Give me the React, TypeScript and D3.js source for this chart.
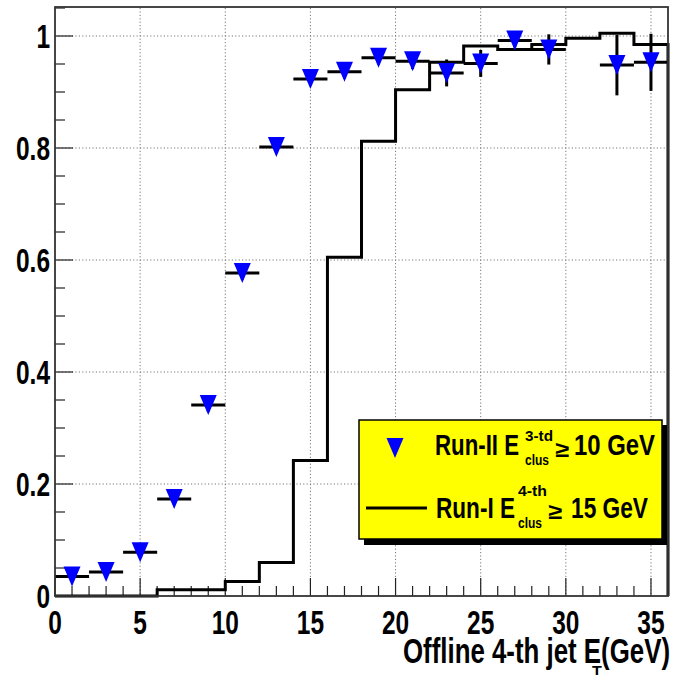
import React from "react";
import * as d3 from "d3";

const binEdges = [0, 2, 4, 6, 8, 10, 12, 14, 16, 18, 20, 22, 24, 26, 28, 30, 32, 34, 36];
// Run-I histogram (one value per 2 GeV bin)
const run1Values = [0, 0, 0, 0.011, 0.011, 0.026, 0.06, 0.242, 0.605, 0.812, 0.904, 0.953, 0.982, 0.976, 0.985, 0.996, 1.005, 0.985];
// Run-II points
const run2X = [1, 3, 5, 7, 9, 11, 13, 15, 17, 19, 21, 23, 25, 27, 29, 33, 35];
const run2Y = [0.035, 0.043, 0.078, 0.173, 0.341, 0.577, 0.802, 0.923, 0.936, 0.961, 0.955, 0.934, 0.951, 0.992, 0.976, 0.948, 0.953];
const run2Err = [0.005, 0.005, 0.008, 0.01, 0.012, 0.012, 0.01, 0.01, 0.012, 0.012, 0.014, 0.024, 0.024, 0.012, 0.027, 0.054, 0.051];
const run2XErr = 1;

const xTicks = [0, 5, 10, 15, 20, 25, 30, 35];
const yTicks = [0, 0.2, 0.4, 0.6, 0.8, 1];
const yTickLabels = ["0", "0.2", "0.4", "0.6", "0.8", "1"];

const W = 675, H = 675;
const left = 55, right = 668, top = 8, bottom = 596;

const FONT = "'Liberation Sans', Arial, Helvetica, sans-serif";

function Tri({ cx, cy }: { cx: number; cy: number }) {
  const w = 8.5, h = 10;
  return <path d={`M${cx - w},${cy - h}L${cx + w},${cy - h}L${cx},${cy + h}Z`} fill="#0000ff" />;
}

function T({ x, y, w, size, children, anchor = "start" }: any) {
  return (
    <text x={x} y={y} fontFamily={FONT} fontWeight="bold" fontSize={size} textLength={w}
      lengthAdjust="spacingAndGlyphs" textAnchor={anchor} fill="#000">{children}</text>
  );
}

export default function App() {
  const x = d3.scaleLinear().domain([0, 36]).range([left, right]);
  const y = d3.scaleLinear().domain([0, 1.05]).range([bottom, top]);

  // histogram path
  let hp = `M${x(binEdges[0])},${y(0)}`;
  run1Values.forEach((v, i) => {
    hp += `L${x(binEdges[i])},${y(v)}L${x(binEdges[i + 1])},${y(v)}`;
  });
  hp += `L${x(binEdges[binEdges.length - 1])},${y(0)}`;

  const xMinor = d3.range(0, 37, 1);
  const yMinor = d3.range(0, 1.0501, 0.05);

  return (
    <svg width={W} height={H} style={{ position: "absolute", left: 0, top: 0, background: "#fff" }}>
      <rect x={0} y={0} width={W} height={H} fill="#fff" />
      {/* grid */}
      {xTicks.filter(t => t > 0).map(t => (
        <line key={"gx" + t} x1={x(t)} x2={x(t)} y1={top} y2={bottom} stroke="#777" strokeWidth={1} strokeDasharray="1.2,2.2" />
      ))}
      {yTicks.filter(t => t > 0).map(t => (
        <line key={"gy" + t} x1={left} x2={right} y1={y(t)} y2={y(t)} stroke="#777" strokeWidth={1} strokeDasharray="1.2,2.2" />
      ))}
      {/* ticks */}
      {xMinor.map(t => (
        <line key={"tx" + t} x1={x(t)} x2={x(t)} y1={bottom} y2={bottom - (t % 5 === 0 ? 18 : 10)} stroke="#222" strokeWidth={1.2} />
      ))}
      {yMinor.map((t, i) => (
        <line key={"ty" + i} x1={left} x2={left + (i % 4 === 0 ? 18 : 10)} y1={y(t)} y2={y(t)} stroke="#222" strokeWidth={1.2} />
      ))}
      {/* histogram */}
      <path d={hp} fill="none" stroke="#000" strokeWidth={3} />
      {/* Run-II error bars */}
      {run2X.map((xv, i) => (
        <g key={"e" + i}>
          <line x1={x(xv - run2XErr)} x2={x(xv + run2XErr)} y1={y(run2Y[i])} y2={y(run2Y[i])} stroke="#000" strokeWidth={3} />
          <line x1={x(xv)} x2={x(xv)} y1={y(run2Y[i] - run2Err[i])} y2={y(run2Y[i] + run2Err[i])} stroke="#000" strokeWidth={3} />
        </g>
      ))}
      {run2X.map((xv, i) => (
        <Tri key={"m" + i} cx={x(xv)} cy={y(run2Y[i])} />
      ))}
      {/* frame */}
      <rect x={left} y={top - 1} width={right - left} height={bottom - top + 1} fill="none" stroke="#333" strokeWidth={1.8} />
      {/* tick labels */}
      {yTicks.map((t, i) => (
        <text key={"ly" + t} transform={`translate(50,${y(t) + 12}) scale(0.72,1)`} textAnchor="end"
          fontFamily={FONT} fontWeight="bold" fontSize={34} fill="#000">{yTickLabels[i]}</text>
      ))}
      {xTicks.map(t => (
        <text key={"lx" + t} transform={`translate(${x(t)},634) scale(0.72,1)`} textAnchor="middle"
          fontFamily={FONT} fontWeight="bold" fontSize={34} fill="#000">{String(t)}</text>
      ))}
      {/* axis title */}
      <T x={403} y={663} w={267} size={35}>Offline 4-th jet E(GeV)</T>
      <text x={597} y={678} textAnchor="middle" fontFamily={FONT} fontWeight="bold" fontSize={16}>T</text>
      {/* legend */}
      <rect x={364} y={425} width={303} height={120} fill="#000" />
      <rect x={359} y={420} width={303} height={119} fill="#ffff00" stroke="#000" strokeWidth={1.5} />
      <Tri cx={395} cy={448} />
      <T x={435} y={455} w={84} size={30}>Run-II E</T>
      <T x={525} y={441} w={28} size={15}>3-td</T>
      <T x={525} y={465} w={24} size={15}>clus</T>
      <T x={555} y={457} w={14} size={22}>≥</T>
      <T x={574} y={455} w={81} size={30}>10 GeV</T>
      <line x1={366} x2={427} y1={508} y2={508} stroke="#000" strokeWidth={3} />
      <T x={436} y={518} w={79} size={30}>Run-I E</T>
      <T x={518} y={496} w={29} size={15}>4-th</T>
      <T x={518} y={528} w={24} size={15}>clus</T>
      <T x={548} y={519} w={14} size={22}>≥</T>
      <T x={571} y={518} w={77} size={30}>15 GeV</T>
    </svg>
  );
}
